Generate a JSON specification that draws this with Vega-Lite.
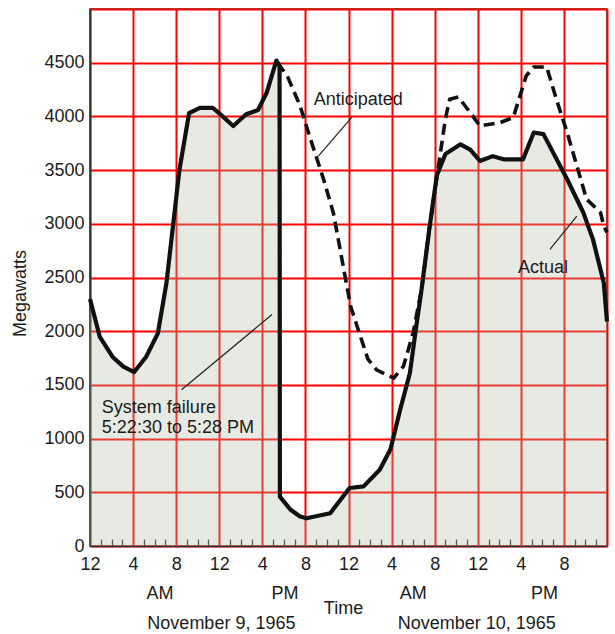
{
  "$schema": "https://vega.github.io/schema/vega-lite/v6.json",
  "width": 517,
  "height": 537,
  "autosize": {"type": "none"},
  "padding": {"left": 90, "top": 9, "right": 8, "bottom": 88},
  "background": "white",
  "config": {
    "view": {"stroke": "#2e332c", "strokeWidth": 1.5},
    "font": "Liberation Sans",
    "text": {"font": "Liberation Sans", "fontSize": 18, "color": "#1b1b1b"}
  },
  "resolve": {"axis": {"x": "independent"}},
  "datasets": {
    "load": [
      {"hour": 0, "mw": 2300, "series": "Actual"},
      {"hour": 0.9, "mw": 1950, "series": "Actual"},
      {"hour": 2.1, "mw": 1760, "series": "Actual"},
      {"hour": 3.1, "mw": 1670, "series": "Actual"},
      {"hour": 4.1, "mw": 1620, "series": "Actual"},
      {"hour": 5.2, "mw": 1760, "series": "Actual"},
      {"hour": 6.3, "mw": 1980, "series": "Actual"},
      {"hour": 7.1, "mw": 2450, "series": "Actual"},
      {"hour": 8.3, "mw": 3500, "series": "Actual"},
      {"hour": 9.2, "mw": 4030, "series": "Actual"},
      {"hour": 10.2, "mw": 4080, "series": "Actual"},
      {"hour": 11.4, "mw": 4080, "series": "Actual"},
      {"hour": 12.1, "mw": 4020, "series": "Actual"},
      {"hour": 13.3, "mw": 3910, "series": "Actual"},
      {"hour": 14.5, "mw": 4020, "series": "Actual"},
      {"hour": 15.6, "mw": 4060, "series": "Actual"},
      {"hour": 16.4, "mw": 4220, "series": "Actual"},
      {"hour": 17.3, "mw": 4520, "series": "Actual"},
      {"hour": 17.6, "mw": 4470, "series": "Actual"},
      {"hour": 17.63, "mw": 460, "series": "Actual"},
      {"hour": 18.6, "mw": 340, "series": "Actual"},
      {"hour": 19.5, "mw": 275, "series": "Actual"},
      {"hour": 20.1, "mw": 258, "series": "Actual"},
      {"hour": 22.3, "mw": 305, "series": "Actual"},
      {"hour": 24.1, "mw": 540, "series": "Actual"},
      {"hour": 25.4, "mw": 555, "series": "Actual"},
      {"hour": 26.9, "mw": 710, "series": "Actual"},
      {"hour": 27.9, "mw": 900, "series": "Actual"},
      {"hour": 28.8, "mw": 1270, "series": "Actual"},
      {"hour": 29.7, "mw": 1610, "series": "Actual"},
      {"hour": 30.3, "mw": 2050, "series": "Actual"},
      {"hour": 30.8, "mw": 2400, "series": "Actual"},
      {"hour": 31.5, "mw": 2950, "series": "Actual"},
      {"hour": 32.2, "mw": 3450, "series": "Actual"},
      {"hour": 33.0, "mw": 3650, "series": "Actual"},
      {"hour": 34.4, "mw": 3740, "series": "Actual"},
      {"hour": 35.3, "mw": 3690, "series": "Actual"},
      {"hour": 36.2, "mw": 3585, "series": "Actual"},
      {"hour": 37.4, "mw": 3630, "series": "Actual"},
      {"hour": 38.4, "mw": 3600, "series": "Actual"},
      {"hour": 40.2, "mw": 3600, "series": "Actual"},
      {"hour": 41.2, "mw": 3850, "series": "Actual"},
      {"hour": 42.1, "mw": 3835, "series": "Actual"},
      {"hour": 44.3, "mw": 3415, "series": "Actual"},
      {"hour": 45.8, "mw": 3105, "series": "Actual"},
      {"hour": 46.7, "mw": 2855, "series": "Actual"},
      {"hour": 47.7, "mw": 2450, "series": "Actual"},
      {"hour": 48, "mw": 2090, "series": "Actual"},
      {"hour": 17.4, "mw": 4500, "series": "Anticipated"},
      {"hour": 18.3, "mw": 4380, "series": "Anticipated"},
      {"hour": 19.5, "mw": 4100, "series": "Anticipated"},
      {"hour": 20.5, "mw": 3780, "series": "Anticipated"},
      {"hour": 21.7, "mw": 3410, "series": "Anticipated"},
      {"hour": 22.6, "mw": 3100, "series": "Anticipated"},
      {"hour": 23.5, "mw": 2610, "series": "Anticipated"},
      {"hour": 24.2, "mw": 2230, "series": "Anticipated"},
      {"hour": 24.8, "mw": 2046, "series": "Anticipated"},
      {"hour": 25.8, "mw": 1740, "series": "Anticipated"},
      {"hour": 26.6, "mw": 1640, "series": "Anticipated"},
      {"hour": 28.2, "mw": 1564, "series": "Anticipated"},
      {"hour": 29.1, "mw": 1673, "series": "Anticipated"},
      {"hour": 30.0, "mw": 1984, "series": "Anticipated"},
      {"hour": 30.8, "mw": 2400, "series": "Anticipated"},
      {"hour": 31.5, "mw": 2950, "series": "Anticipated"},
      {"hour": 32.3, "mw": 3500, "series": "Anticipated"},
      {"hour": 33.0, "mw": 3980, "series": "Anticipated"},
      {"hour": 33.4, "mw": 4160, "series": "Anticipated"},
      {"hour": 34.2, "mw": 4180, "series": "Anticipated"},
      {"hour": 35.3, "mw": 4036, "series": "Anticipated"},
      {"hour": 36.2, "mw": 3911, "series": "Anticipated"},
      {"hour": 38.1, "mw": 3943, "series": "Anticipated"},
      {"hour": 39.3, "mw": 3990, "series": "Anticipated"},
      {"hour": 40.5, "mw": 4378, "series": "Anticipated"},
      {"hour": 41.2, "mw": 4460, "series": "Anticipated"},
      {"hour": 42.4, "mw": 4460, "series": "Anticipated"},
      {"hour": 43.3, "mw": 4160, "series": "Anticipated"},
      {"hour": 44.3, "mw": 3850, "series": "Anticipated"},
      {"hour": 45.2, "mw": 3540, "series": "Anticipated"},
      {"hour": 46.1, "mw": 3230, "series": "Anticipated"},
      {"hour": 47.4, "mw": 3104, "series": "Anticipated"},
      {"hour": 47.7, "mw": 2980, "series": "Anticipated"},
      {"hour": 48, "mw": 2920, "series": "Anticipated"}
    ]
  },
  "data": {"name": "load"},
  "layer": [
    {
      "transform": [{"filter": "datum.series === 'Actual'"}],
      "mark": {"type": "area", "color": "#b4bea4", "opacity": 0.32},
      "encoding": {
        "x": {
          "field": "hour", "type": "quantitative",
          "scale": {"domain": [0, 48], "nice": false, "zero": false},
          "axis": {
            "orient": "bottom",
            "values": [0,4,8,12,16,20,24,28,32,36,40,44,48],
            "title": "Time", "titleX": 253, "titleY": 62, "titleAlign": "center", "titleBaseline": "middle",
            "titleFont": "Liberation Sans", "titleFontSize": 18, "titleFontWeight": "normal", "titleColor": "#1b1b1b",
            "labelExpr": "datum.value < 48 ? (datum.value % 12 === 0 ? '12' : '' + (datum.value % 12)) : ''",
            "labelFont": "Liberation Sans", "labelFontSize": 18, "labelColor": "#1b1b1b",
            "labelPadding": 9, "labelOverlap": false, "labelFlush": false,
            "ticks": false,
            "grid": true, "gridColor": "#ff0000", "gridWidth": 2,
            "domainColor": "#2e332c", "domainWidth": 1.5
          }
        },
        "y": {
          "field": "mw", "type": "quantitative",
          "scale": {"domain": [0, 5000], "nice": false},
          "axis": {
            "values": [0,500,1000,1500,2000,2500,3000,3500,4000,4500,5000],
            "title": "Megawatts", "titleX": -70, "titleY": 284, "titleAngle": 270, "titleAlign": "center", "titleBaseline": "middle",
            "titleFont": "Liberation Sans", "titleFontSize": 18, "titleFontWeight": "normal", "titleColor": "#1b1b1b",
            "labelExpr": "datum.value >= 5000 ? '' : '' + datum.value",
            "labelFont": "Liberation Sans", "labelFontSize": 18, "labelColor": "#1b1b1b", "labelPadding": 6,
            "ticks": false,
            "grid": true, "gridColor": "#ff0000", "gridWidth": 2,
            "domainColor": "#2e332c", "domainWidth": 1.5
          }
        }
      }
    },
    {
      "transform": [{"filter": "datum.series === 'Actual'"}],
      "mark": {"type": "line", "color": "#111111", "strokeWidth": 4.2, "strokeJoin": "round"},
      "encoding": {
        "x": {
          "field": "hour", "type": "quantitative",
          "axis": {
            "orient": "bottom",
            "values": [1,2,3,5,6,7,9,10,11,13,14,15,17,18,19,21,22,23,25,26,27,29,30,31,33,34,35,37,38,39,41,42,43,45,46,47],
            "title": null, "labels": false, "grid": false, "domain": false,
            "ticks": true, "tickSize": -7, "tickColor": "#2e332c", "tickWidth": 1.3
          }
        },
        "y": {"field": "mw", "type": "quantitative"}
      }
    },
    {
      "transform": [{"filter": "datum.series === 'Anticipated'"}],
      "mark": {"type": "line", "color": "#111111", "strokeWidth": 3.6, "strokeDash": [11, 6]},
      "encoding": {
        "x": {"field": "hour", "type": "quantitative", "axis": null},
        "y": {"field": "mw", "type": "quantitative"}
      }
    },
    {
      "data": {"values": [{}]},
      "mark": {"type": "rule", "color": "#222222", "strokeWidth": 1.2},
      "encoding": {"x": {"datum": 8.5, "axis": null}, "y": {"datum": 1455}, "x2": {"datum": 16.9}, "y2": {"datum": 2155}}
    },
    {
      "data": {"values": [{}]},
      "mark": {"type": "rule", "color": "#222222", "strokeWidth": 1.2},
      "encoding": {"x": {"datum": 24.3, "axis": null}, "y": {"datum": 3990}, "x2": {"datum": 21.2}, "y2": {"datum": 3631}}
    },
    {
      "data": {"values": [{}]},
      "mark": {"type": "rule", "color": "#222222", "strokeWidth": 1.2},
      "encoding": {"x": {"datum": 45.2, "axis": null}, "y": {"datum": 3072}, "x2": {"datum": 42.7}, "y2": {"datum": 2761}}
    },
    {
      "data": {"values": [{}]},
      "mark": {"type": "text", "align": "center", "baseline": "middle", "text": "Anticipated"},
      "encoding": {"x": {"datum": 24.9, "axis": null}, "y": {"datum": 4151}}
    },
    {
      "data": {"values": [{}]},
      "mark": {"type": "text", "align": "center", "baseline": "middle", "text": "Actual"},
      "encoding": {"x": {"datum": 42.06, "axis": null}, "y": {"datum": 2593}}
    },
    {
      "data": {"values": [{}]},
      "mark": {"type": "text", "align": "left", "baseline": "alphabetic", "lineHeight": 19.5, "text": ["System failure", "5:22:30 to 5:28 PM"]},
      "encoding": {"x": {"datum": 1.1, "axis": null}, "y": {"datum": 1236}}
    },
    {
      "data": {"values": [{}]},
      "mark": {"type": "text", "align": "center", "baseline": "middle", "text": "AM"},
      "encoding": {"x": {"datum": 6.5, "axis": null}, "y": {"datum": -447}}
    },
    {
      "data": {"values": [{}]},
      "mark": {"type": "text", "align": "center", "baseline": "middle", "text": "PM"},
      "encoding": {"x": {"datum": 18.1, "axis": null}, "y": {"datum": -447}}
    },
    {
      "data": {"values": [{}]},
      "mark": {"type": "text", "align": "center", "baseline": "middle", "text": "AM"},
      "encoding": {"x": {"datum": 30.0, "axis": null}, "y": {"datum": -447}}
    },
    {
      "data": {"values": [{}]},
      "mark": {"type": "text", "align": "center", "baseline": "middle", "text": "PM"},
      "encoding": {"x": {"datum": 42.2, "axis": null}, "y": {"datum": -447}}
    },
    {
      "data": {"values": [{}]},
      "mark": {"type": "text", "align": "center", "baseline": "middle", "text": "November 9, 1965"},
      "encoding": {"x": {"datum": 12.2, "axis": null}, "y": {"datum": -726}}
    },
    {
      "data": {"values": [{}]},
      "mark": {"type": "text", "align": "center", "baseline": "middle", "text": "November 10, 1965"},
      "encoding": {"x": {"datum": 35.9, "axis": null}, "y": {"datum": -726}}
    }
  ]
}
